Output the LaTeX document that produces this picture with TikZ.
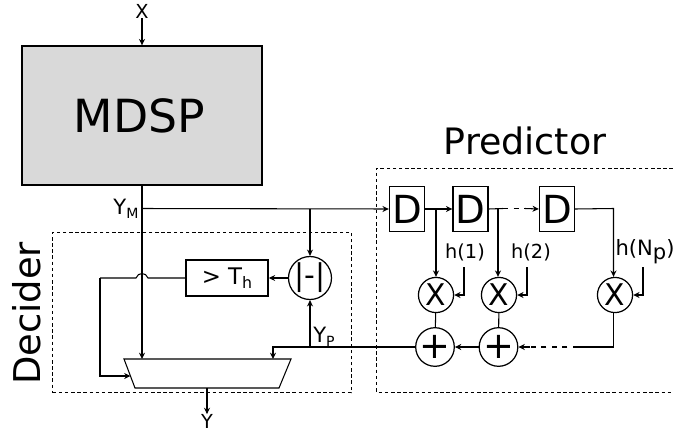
\documentclass[tikz,border=0pt]{standalone}
\usepackage{fontspec}
\setmainfont{DejaVu Sans}
\usetikzlibrary{arrows.meta}
\newcommand{\fsize}[1]{\fontsize{#1}{#1}\selectfont}
\newcommand{\lowtxt}[2]{\raisebox{-0.35ex}{\fsize{#1}#2}}
\tikzset{
    wire/.style={line width=0.6pt},
    arr/.style={wire, -{Stealth[length=3.6pt, width=3.4pt]}},
    frame/.style={draw, dashed, line width=0.5pt, dash pattern=on 2pt off 1.5pt},
    delay/.style={draw, fill=white, line width=0.7pt, minimum width=20pt, minimum height=26pt, inner sep=0pt, font=\fsize{22}},
    oper/.style={circle, draw, fill=white, line width=0.7pt, minimum size=20pt, inner sep=0pt, font=\fsize{17}},
    lbl/.style={inner sep=0pt, font=\fsize{11}}
}
\begin{document}
\begin{tikzpicture}[x=0.02cm, y=-0.02cm]
    \useasboundingbox (0,0) rectangle (673,433);

    % Frames
    \node[frame, minimum width=170pt, minimum height=91.3pt, inner sep=0pt] (deciderbox) at (202,312.5) {};
    \draw[frame] (673,168) -- (376.5,168) -- (376.5,392) -- (673,392);

    % Draw blocks
    \node[draw, fill=black!15, line width=1.1pt, minimum width=137pt, minimum height=78.8pt, inner sep=0pt, font=\fsize{26}] (mdsp) at (142,115.5) {\hspace{-3pt}MDSP};
    \node[draw, line width=1.1pt, minimum width=46.5pt, minimum height=20pt, inner sep=0pt, font=\fsize{13}] (thresh) at (227,278) {> T\lowtxt{9}{h}};
    \node[oper, font=\fsize{17}] (absdiff) at (310,278) {|-|};

    % Selector
    \coordinate (muxtl) at (124,359);
    \coordinate (muxtr) at (291,359);
    \coordinate (muxbr) at (279,388);
    \coordinate (muxbl) at (135,388);
    \coordinate (muxout) at (207,388);
    \draw[wire] (muxtl) -- (muxtr) -- (muxbr) -- (muxbl) -- cycle;

    % Delay line
    \node[delay] (d1) at (407,209) {D};
    \node[delay] (d2) at (470.5,209) {D};
    \node[delay] (d3) at (557,209) {D};

    % Multipliers and adders
    \node[oper] (m1) at (436,295) {X};
    \node[oper] (m2) at (499,295) {X};
    \node[oper] (m3) at (615,295) {X};
    \node[oper, font=\fsize{21}] (a1) at (435,347) {+};
    \node[oper, font=\fsize{21}] (a2) at (498.5,347) {+};

    % Labels
    \node[lbl] (xin) at (142,11) {X};
    \node[lbl] (yout) at (207,421.5) {Y};
    \node[lbl, font=\fsize{12}] (ym) at (126,209) {Y\lowtxt{8}{M}};
    \node[lbl, font=\fsize{12}] (yp) at (324,337) {Y\lowtxt{8}{P}};
    \node[lbl] (h1) at (465,252) {h(1)};
    \node[lbl] (h2) at (531,252) {h(2)};
    \node[lbl, font=\fsize{12}] (h3) at (645,252) {h(N\lowtxt{12}{p})};
    \node[inner sep=0pt, font=\fsize{20.7}] (predictor) at (525,141) {Predictor};
    \node[inner sep=0pt, rotate=90, font=\fsize{21}] (decider) at (27,313.5) {Decider};

    % Junctions
    \coordinate (jm) at (142,208.5);
    \coordinate (jabs) at (310,208.5);
    \coordinate (jp) at (310,347);
    \coordinate (muxa) at (142,359);
    \coordinate (muxb) at (273,359);
    \coordinate (muxc) at (130.5,376);
    \coordinate (turn) at (100,278);
    \coordinate (hopr) at (148,278);
    \coordinate (hopl) at (136,278);
    \coordinate (j1) at (436,208.5);
    \coordinate (j2) at (498,208.5);
    \coordinate (j3) at (613.5,208.5);
    \coordinate (sa) at (503,208.5);
    \coordinate (sb) at (525,208.5);
    \coordinate (ta) at (578,347);
    \coordinate (tb) at (530,347);

    % Draw connections
    \draw[arr] (xin) -- (mdsp.north);
    \draw[wire] (mdsp.south) -- (jm);
    \draw[arr] (jm) -- (muxa);
    \draw[arr] (jm) -- (d1.west);
    \draw[arr] (jabs) -- (absdiff.north);
    \draw[arr] (absdiff.west) -- (thresh.east);
    \draw[wire] (thresh.west) -- (hopr) .. controls (146,272) and (138,272) .. (hopl) -- (turn);
    \draw[arr] (turn) |- (muxc);
    \draw[arr] (muxout) -- (yout);
    \draw[arr] (jp) -- (absdiff.south);
    \draw[arr] (a1.west) -| (muxb);

    \draw[arr] (d1.east) -- (d2.west);
    \draw[wire] (d2.east) -- (sa);
    \draw[wire, dashed] (sa) -- (sb);
    \draw[arr] (sb) -- (d3.west);
    \draw[arr] (j1) -- (m1.north);
    \draw[arr] (j2) -- (j2 |- m2.north);
    \draw[arr] (d3.east) -- (j3) -- (j3 |- m3.north);
    \draw[arr] (464,267) |- (m1.east);
    \draw[arr] (527,267) |- (m2.east);
    \draw[arr] (643,267) |- (m3.east);
    \draw[wire] (m1) -- (a1);
    \draw[wire] (m2) -- (a2);
    \draw[wire] (m3.south -| j3) |- (ta);
    \draw[wire, dashed] (ta) -- (tb);
    \draw[arr] (tb) -- (a2.east);
    \draw[arr] (a2.west) -- (a1.east);
\end{tikzpicture}
\end{document}
